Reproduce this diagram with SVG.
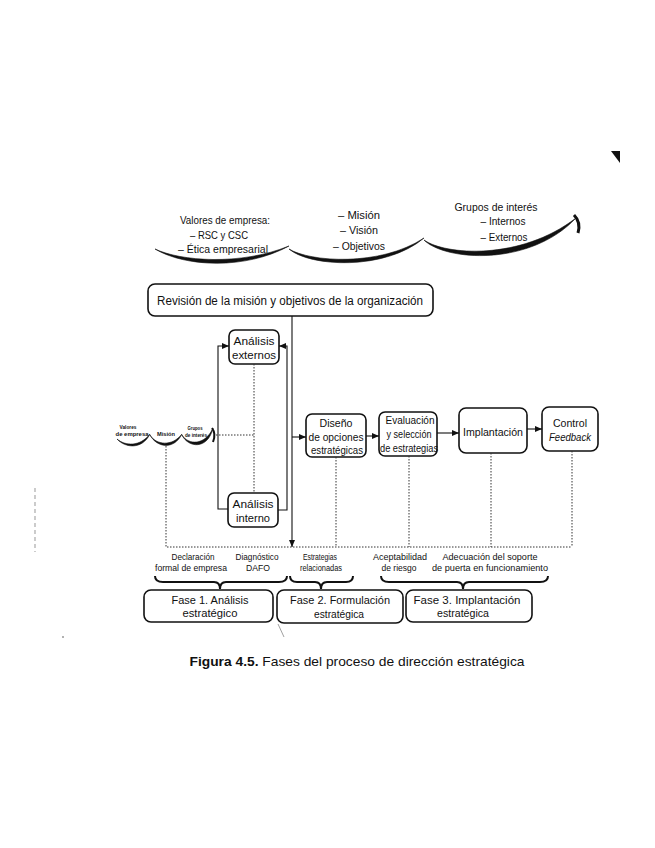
<svg xmlns="http://www.w3.org/2000/svg" width="655" height="848" viewBox="0 0 655 848">
<defs>
<style>
.t{font-family:"Liberation Sans","Noto Sans",sans-serif;fill:#111;text-anchor:middle}
.s11{font-size:11.5px}
.s12{font-size:11.5px}
.s9{font-size:9px}
.s5{font-size:5.5px;font-weight:bold}
.box{fill:#fff;stroke:#111;stroke-width:1.6}
.ln{fill:none;stroke:#111;stroke-width:1.1}
.dot{fill:none;stroke:#333;stroke-width:1;stroke-dasharray:1.5 1.5}
.cl{fill:#111;stroke:#111;stroke-width:0.6}
.br{fill:none;stroke:#111;stroke-width:2}
</style>
<marker id="ar" markerUnits="userSpaceOnUse" markerWidth="8" markerHeight="7" refX="7" refY="3" orient="auto">
<path d="M0,0 L7,3 L0,6 z" fill="#111"/>
</marker>
</defs>
<rect width="655" height="848" fill="#fff"/>

<!-- scan marks -->
<polygon points="611,151 620,151 620,163" fill="#111"/>
<line x1="35" y1="488" x2="35" y2="552" stroke="#aaa" stroke-width="1.2" stroke-dasharray="4 3"/>
<circle cx="63" cy="637" r="1" fill="#999"/>

<!-- top clouds -->
<g id="cloud-valores">
<path class="cl" d="M155,249 C180,261 240,266 289,246 C245,270 185,267 155,249 Z"/>
<text class="t s11" x="225" y="224" textLength="90" lengthAdjust="spacingAndGlyphs">Valores de empresa:</text>
<text class="t s11" x="219" y="239" textLength="58" lengthAdjust="spacingAndGlyphs">– RSC y CSC</text>
<text class="t s11" x="223" y="253" textLength="90" lengthAdjust="spacingAndGlyphs">– Ética empresarial</text>
</g>
<g id="cloud-mision">
<path class="cl" d="M289,249 C310,262 380,267 424,238 C385,271 310,267 289,249 Z"/>
<text class="t s11" x="359" y="219" textLength="42" lengthAdjust="spacingAndGlyphs">– Misión</text>
<text class="t s11" x="359" y="234" textLength="38" lengthAdjust="spacingAndGlyphs">– Visión</text>
<text class="t s11" x="359" y="250" textLength="52" lengthAdjust="spacingAndGlyphs">– Objetivos</text>
</g>
<g id="cloud-grupos">
<path class="cl" d="M424,240 C445,255 520,261 576,218 C530,267 445,261 424,240 Z"/>
<path d="M574,215 C579,220 580,226 578,233" fill="none" stroke="#111" stroke-width="3"/>
<text class="t s11" x="496" y="211" textLength="83" lengthAdjust="spacingAndGlyphs">Grupos de interés</text>
<text class="t s11" x="503" y="225" textLength="45" lengthAdjust="spacingAndGlyphs">– Internos</text>
<text class="t s11" x="504" y="241" textLength="47" lengthAdjust="spacingAndGlyphs">– Externos</text>
</g>

<g id="revision">
<rect class="box" x="148" y="284" width="285" height="32" rx="7"/>
<text class="t" style="font-size:12.5px" x="290" y="305" textLength="266" lengthAdjust="spacingAndGlyphs">Revisión de la misión y objetivos de la organización</text>
</g>

<!-- small clouds -->
<g id="mini-clouds">
<path class="cl" d="M117,439 C125,446 140,447 150,434 C142,450 125,448 117,439 Z"/>
<path class="cl" d="M150,435 C156,445 172,447 182,434 C174,450 157,448 150,435 Z"/>
<path class="cl" d="M182,435 C188,445 205,446 213,428 C208,450 188,448 182,435 Z"/>
<path d="M212,428 C215,432 215,437 213,442" fill="none" stroke="#111" stroke-width="2"/>
<text class="t s5" x="128" y="429" textLength="17" lengthAdjust="spacingAndGlyphs">Valores</text>
<text class="t s5" x="132" y="436" textLength="33" lengthAdjust="spacingAndGlyphs">de empresa</text>
<text class="t s5" x="166" y="436" textLength="18" lengthAdjust="spacingAndGlyphs">Misión</text>
<text class="t s5" x="195" y="430" textLength="15" lengthAdjust="spacingAndGlyphs">Grupos</text>
<text class="t s5" x="196" y="437" textLength="22" lengthAdjust="spacingAndGlyphs">de interés</text>
</g>

<g id="analisis-externos">
<rect class="box" x="229" y="330" width="50" height="34" rx="6"/>
<text class="t s11" x="254" y="345" textLength="41" lengthAdjust="spacingAndGlyphs">Análisis</text>
<text class="t s11" x="254" y="359" textLength="44" lengthAdjust="spacingAndGlyphs">externos</text>
</g>
<g id="analisis-interno">
<rect class="box" x="228" y="493" width="50" height="34" rx="6"/>
<text class="t s11" x="253" y="508" textLength="41" lengthAdjust="spacingAndGlyphs">Análisis</text>
<text class="t s11" x="253" y="522" textLength="34" lengthAdjust="spacingAndGlyphs">interno</text>
</g>

<g id="diseno">
<rect class="box" x="306" y="414" width="60" height="43" rx="6"/>
<text class="t s11" x="336" y="427" textLength="33" lengthAdjust="spacingAndGlyphs">Diseño</text>
<text class="t s11" x="336" y="441" textLength="55" lengthAdjust="spacingAndGlyphs">de opciones</text>
<text class="t s11" x="337" y="454" textLength="52" lengthAdjust="spacingAndGlyphs">estratégicas</text>
</g>
<g id="evaluacion">
<rect class="box" x="379" y="412" width="58" height="44" rx="6"/>
<text class="t s11" x="410" y="424" textLength="49" lengthAdjust="spacingAndGlyphs">Evaluación</text>
<text class="t s11" x="409" y="438" textLength="45" lengthAdjust="spacingAndGlyphs">y selección</text>
<text class="t s11" x="409" y="452" textLength="58" lengthAdjust="spacingAndGlyphs">de estrategias</text>
</g>
<g id="implantacion">
<rect class="box" x="459" y="408" width="68" height="45" rx="7"/>
<text class="t s11" x="493" y="436" textLength="60" lengthAdjust="spacingAndGlyphs">Implantación</text>
</g>
<g id="control">
<rect class="box" x="542" y="407" width="56" height="44" rx="7"/>
<text class="t s11" x="570" y="427" textLength="34" lengthAdjust="spacingAndGlyphs">Control</text>
<text class="t s11" x="570" y="441" textLength="42" lengthAdjust="spacingAndGlyphs" font-style="italic">Feedback</text>
</g>

<g id="connectors">
<line class="ln" x1="292" y1="316" x2="292" y2="547" marker-end="url(#ar)"/>
<line class="ln" x1="292" y1="437" x2="306" y2="437" marker-end="url(#ar)"/>
<line class="ln" x1="366" y1="436" x2="379" y2="436" marker-end="url(#ar)"/>
<line class="ln" x1="437" y1="433" x2="459" y2="433" marker-end="url(#ar)"/>
<line class="ln" x1="527" y1="429" x2="542" y2="429" marker-end="url(#ar)"/>
<path class="ln" d="M228,509 H218 V346 H229" marker-end="url(#ar)"/>
<path class="ln" d="M278,510 H287 V346 H279" marker-end="url(#ar)"/>
<line class="dot" x1="254" y1="364" x2="254" y2="493"/>
<line class="dot" x1="216" y1="435" x2="254" y2="435"/>
<path class="dot" d="M166,446 V547 H572"/>
<line class="dot" x1="336" y1="457" x2="336" y2="547"/>
<line class="dot" x1="409" y1="456" x2="409" y2="547"/>
<line class="dot" x1="491" y1="453" x2="491" y2="547"/>
<line class="dot" x1="572" y1="451" x2="572" y2="547"/>
</g>

<g id="labels">
<text class="t s9" x="193" y="560" textLength="43" lengthAdjust="spacingAndGlyphs">Declaración</text>
<text class="t s9" x="191" y="571" textLength="72" lengthAdjust="spacingAndGlyphs">formal de empresa</text>
<text class="t s9" x="257" y="560" textLength="43" lengthAdjust="spacingAndGlyphs">Diagnóstico</text>
<text class="t s9" x="258" y="571" textLength="24" lengthAdjust="spacingAndGlyphs">DAFO</text>
<text class="t s9" x="320" y="560" textLength="34" lengthAdjust="spacingAndGlyphs">Estrategias</text>
<text class="t s9" x="321" y="571" textLength="42" lengthAdjust="spacingAndGlyphs">relacionadas</text>
<text class="t s9" x="400" y="560" textLength="54" lengthAdjust="spacingAndGlyphs">Aceptabilidad</text>
<text class="t s9" x="399" y="571" textLength="35" lengthAdjust="spacingAndGlyphs">de riesgo</text>
<text class="t s9" x="490" y="560" textLength="95" lengthAdjust="spacingAndGlyphs">Adecuación del soporte</text>
<text class="t s9" x="490" y="571" textLength="116" lengthAdjust="spacingAndGlyphs">de puerta en funcionamiento</text>
</g>

<g id="braces">
<path class="br" d="M155,576 Q155,582 163,582 L214,582 Q220,582 220,589 Q220,582 226,582 L279,582 Q287,582 287,576"/>
<path class="br" d="M290,576 Q290,582 297,582 L315,582 Q321,582 321,589 Q321,582 327,582 L346,582 Q353,582 353,576"/>
<path class="br" d="M381,576 Q381,582 389,582 L457,582 Q463,582 463,589 Q463,582 469,582 L540,582 Q548,582 548,576"/>
</g>

<g id="fase1">
<rect class="box" x="144" y="590" width="129" height="32" rx="7"/>
<text class="t s12" x="210" y="604" textLength="77" lengthAdjust="spacingAndGlyphs">Fase 1. Análisis</text>
<text class="t s12" x="210" y="617" textLength="55" lengthAdjust="spacingAndGlyphs">estratégico</text>
</g>
<g id="fase2">
<rect class="box" x="277" y="590" width="126" height="33" rx="7"/>
<text class="t s12" x="340" y="604" textLength="100" lengthAdjust="spacingAndGlyphs">Fase 2. Formulación</text>
<text class="t s12" x="339" y="618" textLength="50" lengthAdjust="spacingAndGlyphs">estratégica</text>
</g>
<g id="fase3">
<rect class="box" x="406" y="590" width="126" height="32" rx="7"/>
<text class="t s12" x="467" y="604" textLength="107" lengthAdjust="spacingAndGlyphs">Fase 3. Implantación</text>
<text class="t s12" x="463" y="617" textLength="52" lengthAdjust="spacingAndGlyphs">estratégica</text>
</g>
<line x1="278" y1="624" x2="284" y2="637" stroke="#888" stroke-width="0.8"/>

<g id="caption">
<text class="t" x="357" y="666" style="font-size:13px" textLength="335" lengthAdjust="spacingAndGlyphs"><tspan font-weight="bold">Figura 4.5.</tspan>  Fases del proceso de dirección estratégica</text>
</g>
</svg>
